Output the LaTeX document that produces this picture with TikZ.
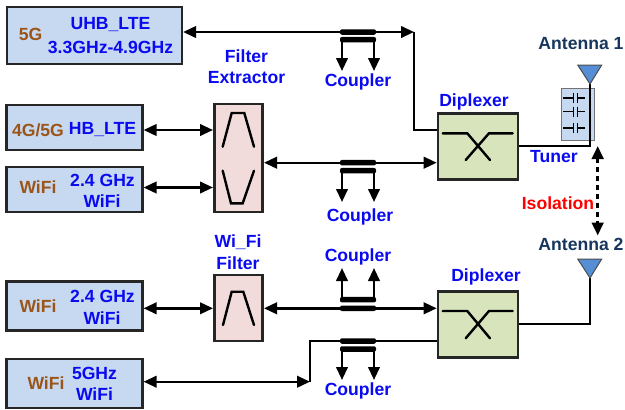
\documentclass[tikz,border=0pt]{standalone}
\usepackage{fontspec}
\setmainfont{Liberation Sans}
\usetikzlibrary{arrows.meta}

\definecolor{bandfill}{HTML}{C6D9F1}
\definecolor{filterfill}{HTML}{F2DCDB}
\definecolor{diplexfill}{HTML}{D8E4BC}
\definecolor{antfill}{HTML}{558ED5}
\definecolor{bandtext}{HTML}{9C5518}
\definecolor{anttext}{HTML}{17365D}
\definecolor{linktext}{HTML}{0A0AF0}

\tikzset{
	label/.style={inner sep=0pt,font=\bfseries\fontsize{17.6}{20}\selectfont,text=linktext},
	bandlabel/.style={label,text=bandtext},
	antlabel/.style={label,text=anttext},
	band/.style={shape=rectangle,draw=black!85,line width=2.2pt,fill=bandfill,inner sep=0pt},
	filterbox/.style={shape=rectangle,draw=black!85,line width=2.6pt,fill=filterfill,inner sep=0pt,minimum width=48pt},
	diplexbox/.style={shape=rectangle,draw=black!85,line width=2.6pt,fill=diplexfill,inner sep=0pt,minimum width=80pt,minimum height=66pt},
	bar/.style={shape=rectangle,fill=black,rounded corners=2pt,inner sep=0pt,minimum width=36pt,minimum height=5.5pt},
	wire/.style={line width=2.4pt,line join=miter},
	oneway/.style={wire,-{Triangle[length=13pt,width=11.5pt]}},
	twoway/.style={wire,{Triangle[length=13pt,width=11.5pt]}-{Triangle[length=13pt,width=11.5pt]}},
	curve/.style={line width=2.4pt,line cap=round}
}

\begin{document}
\begin{tikzpicture}[x=1pt,y=-1pt]
	\useasboundingbox (0,0) rectangle (625,410);

	% bands
	\node[band,minimum width=175pt,minimum height=57pt] (uhb) at (94.5,35.5) {};
	\node[band,minimum width=136pt,minimum height=45pt] (hb) at (74.5,127.5) {};
	\node[band,minimum width=136pt,minimum height=45pt] (wifia) at (74.5,189.5) {};
	\node[band,minimum width=136pt,minimum height=49pt] (wifib) at (74.5,306) {};
	\node[band,minimum width=136pt,minimum height=49pt] (wific) at (74.5,383.5) {};

	% filters and diplexers
	\node[filterbox,minimum height=108pt] (extractor) at (238.5,158) {};
	\node[filterbox,minimum height=66pt] (wififilter) at (238.5,308) {};
	\node[diplexbox] (dipa) at (478,146.2) {};
	\node[diplexbox] (dipb) at (478,324.7) {};

	% tuner
	\node[shape=rectangle,draw=black!55,line width=1.2pt,fill=bandfill,inner sep=0pt,minimum width=33pt,minimum height=52pt] (tuner) at (578.3,114.7) {};
	\path[line width=1.2pt] (563,98) edge (573.3,98) (577.3,98) edge (585,98);
	\path[line width=1.2pt] (573.3,93) edge (573.3,103) (577.3,93) edge (577.3,103);
	\path[line width=1.2pt] (563,111.5) edge (573.3,111.5) (577.3,111.5) edge (585,111.5);
	\path[line width=1.2pt] (573.3,106.5) edge (573.3,116.5) (577.3,106.5) edge (577.3,116.5);
	\path[line width=1.2pt] (563,128) edge (573.3,128) (577.3,128) edge (585,128);
	\path[line width=1.2pt] (573.3,123) edge (573.3,133) (577.3,123) edge (577.3,133);

	% corners and free ends
	\coordinate (topa) at (414,32);
	\coordinate (topb) at (414,130);
	\coordinate (mida) at (264,162.7);
	\coordinate (hbin) at (213,130);
	\coordinate (wifiin) at (213,187.5);
	\coordinate (lowa) at (213,308.3);
	\coordinate (lowb) at (264,308.3);
	\coordinate (wifia5) at (310,381.7);
	\coordinate (wifib5) at (310,341);
	\coordinate (anta) at (590,84);
	\coordinate (antabot) at (590,146);
	\coordinate (antb) at (590,278);
	\coordinate (antbbot) at (590,324);
	\coordinate (isoa) at (597.7,146);
	\coordinate (isob) at (597.7,235.5);

	% wires
	\path[twoway] (uhb.east |- topa) edge (topa);
	\draw[wire] (topa) -- (topb) -- (dipa.west |- topb);
	\path[twoway] (hb.east |- hbin) edge (hbin);
	\path[twoway] (wifia.east |- wifiin) edge (wifiin);
	\path[twoway] (mida) edge (dipa.west |- mida);
	\path[twoway] (wifib.east |- lowa) edge (lowa);
	\path[twoway] (lowb) edge (dipb.west |- lowb);
	\path[twoway] (wific.east |- wifia5) edge (wifia5);
	\draw[wire] (wifia5) -- (wifib5) -- (dipb.west |- wifib5);
	\draw[wire] (anta) -- (antabot) -- (dipa.east |- antabot);
	\draw[wire] (antb) -- (antbbot) -- (dipb.east |- antbbot);
	\path[twoway,line width=3pt,dash pattern=on 5pt off 4pt] (isoa) edge (isob);

	% couplers
	\node[bar] (bara) at (358,32) {};
	\node[bar] (barb) at (358,39.7) {};
	\node[bar] (barc) at (358,162.7) {};
	\node[bar] (bard) at (358,170.7) {};
	\node[bar] (bare) at (358,308.3) {};
	\node[bar] (barf) at (358,299.7) {};
	\node[bar] (barg) at (358,341) {};
	\node[bar] (barh) at (358,349) {};
	\path[oneway] (342,39.7) edge (342,71) (374,39.7) edge (374,71);
	\path[oneway] (342,170.7) edge (342,202) (374,170.7) edge (374,202);
	\path[oneway] (342,299.7) edge (342,268) (374,299.7) edge (374,268);
	\path[oneway] (342,349) edge (342,380) (374,349) edge (374,380);

	% filter curves
	\draw[curve] (222.7,146.7) -- (231.7,113) -- (244.3,113) -- (254,146.7);
	\draw[curve] (222.7,170.7) -- (231,203.3) -- (242.7,203.3) -- (254,170.7);
	\draw[curve] (223,325) -- (231.7,291.7) -- (243.3,291.7) -- (254,325);
	\draw[curve] (442.7,133.3) -- (467.3,133.3) -- (490,160);
	\draw[curve] (512.7,133.3) -- (489,133.3) -- (465.7,160);
	\draw[curve] (442.7,311) -- (467.3,311) -- (490,338.3);
	\draw[curve] (512.7,311) -- (489,311) -- (465.7,338.3);

	% antennas
	\draw[draw=black!70,line width=1pt,fill=antfill] (577.7,65) -- (601.7,65) -- (anta) -- cycle;
	\draw[draw=black!70,line width=1pt,fill=antfill] (577.7,259) -- (601.7,259) -- (antb) -- cycle;

	% labels
	\node[bandlabel] (fiveg) at (30.5,34) {5G};
	\node[label] (uhbname) at (110.5,25) {UHB\_LTE};
	\node[label] (uhbrange) at (110.5,47) {3.3GHz-4.9GHz};
	\node[bandlabel] (fourg) at (38,130) {4G/5G};
	\node[label] (hbname) at (102.5,130) {HB\_LTE};
	\node[bandlabel] (wifiab) at (38,187) {WiFi};
	\node[label] (wifiaa) at (102.5,180) {2.4 GHz};
	\node[label] (wifiac) at (102,201) {WiFi};
	\node[bandlabel] (wifibb) at (38,306) {WiFi};
	\node[label] (wifiba) at (102.5,296) {2.4 GHz};
	\node[label] (wifibc) at (102,318) {WiFi};
	\node[bandlabel] (wificb) at (46,383) {WiFi};
	\node[label] (wifica) at (94.5,373) {5GHz};
	\node[label] (wificc) at (94.5,394) {WiFi};
	\node[label] (filtera) at (246.5,56) {Filter};
	\node[label] (filterb) at (246.5,78) {Extractor};
	\node[label] (wfa) at (238,242) {Wi\_Fi};
	\node[label] (wfb) at (238,263) {Filter};
	\node[label] (coupa) at (358,82) {Coupler};
	\node[label] (coupb) at (360,217) {Coupler};
	\node[label] (coupc) at (358,257) {Coupler};
	\node[label] (coupd) at (358,391) {Coupler};
	\node[label] (dipla) at (474,102) {Diplexer};
	\node[label] (diplb) at (486,277) {Diplexer};
	\node[label] (tunerl) at (554,157) {Tuner};
	\node[label,text=red] (isol) at (558,203) {Isolation};
	\node[antlabel] (antla) at (581,44) {Antenna 1};
	\node[antlabel] (antlb) at (581,244) {Antenna 2};

\end{tikzpicture}
\end{document}
